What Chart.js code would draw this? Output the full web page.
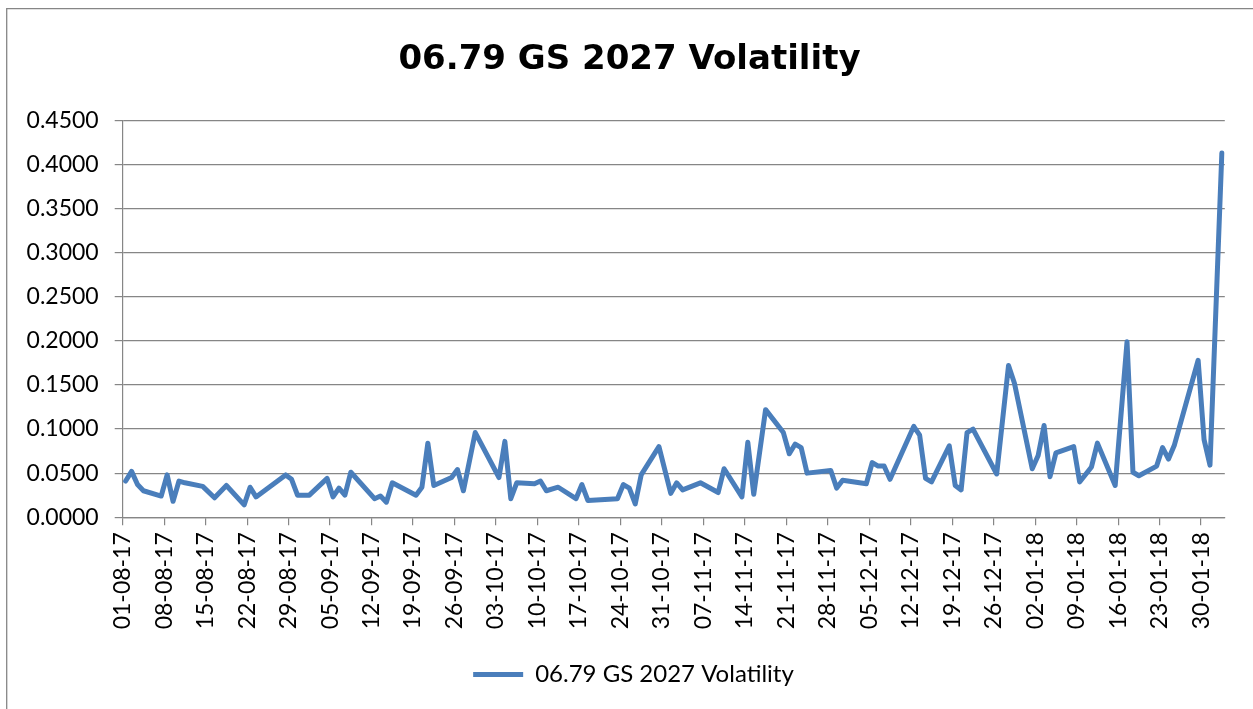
<!DOCTYPE html>
<html><head><meta charset="utf-8">
<script src="https://cdn.jsdelivr.net/npm/chart.js@4/dist/chart.umd.min.js"></script>
<style>html,body{margin:0;padding:0;background:#fff;} canvas{display:block;}</style>
</head><body>
<canvas id="c" width="1253" height="709"></canvas>
<script>
const chartTitle = '06.79 GS 2027 Volatility';
const seriesName = '06.79 GS 2027 Volatility';

const dates = [
 '01-08-17','02-08-17','03-08-17','04-08-17','07-08-17','08-08-17','09-08-17','10-08-17','11-08-17','14-08-17',
 '16-08-17','18-08-17','21-08-17','22-08-17','23-08-17','28-08-17','29-08-17','30-08-17','01-09-17','04-09-17',
 '05-09-17','06-09-17','07-09-17','08-09-17','12-09-17','13-09-17','14-09-17','15-09-17','19-09-17','20-09-17',
 '21-09-17','22-09-17','25-09-17','26-09-17','27-09-17','29-09-17','03-10-17','04-10-17','05-10-17','06-10-17',
 '09-10-17','10-10-17','11-10-17','13-10-17','16-10-17','17-10-17','18-10-17','23-10-17','24-10-17','25-10-17',
 '26-10-17','27-10-17','30-10-17','01-11-17','02-11-17','03-11-17','06-11-17','09-11-17','10-11-17','13-11-17',
 '14-11-17','15-11-17','17-11-17','20-11-17','21-11-17','22-11-17','23-11-17','24-11-17','28-11-17','29-11-17',
 '30-11-17','04-12-17','05-12-17','06-12-17','07-12-17','08-12-17','12-12-17','13-12-17','14-12-17','15-12-17',
 '18-12-17','19-12-17','20-12-17','21-12-17','22-12-17','26-12-17','28-12-17','29-12-17','01-01-18','02-01-18',
 '03-01-18','04-01-18','05-01-18','08-01-18','09-01-18','11-01-18','12-01-18','15-01-18','17-01-18','18-01-18',
 '19-01-18','22-01-18','23-01-18','24-01-18','25-01-18','29-01-18','30-01-18','31-01-18','02-02-18'
];
const values = [
 0.041,0.052,0.037,0.030,0.024,0.048,0.018,0.041,0.039,0.035,
 0.022,0.036,0.014,0.034,0.023,0.048,0.043,0.025,0.025,0.044,
 0.023,0.033,0.025,0.051,0.021,0.024,0.017,0.039,0.025,0.034,
 0.084,0.036,0.045,0.054,0.030,0.096,0.045,0.086,0.021,0.039,
 0.038,0.041,0.030,0.034,0.021,0.037,0.019,0.021,0.037,0.033,
 0.015,0.048,0.080,0.027,0.039,0.031,0.039,0.028,0.055,0.023,
 0.085,0.026,0.122,0.096,0.072,0.083,0.079,0.050,0.053,0.033,
 0.042,0.038,0.062,0.058,0.058,0.043,0.103,0.093,0.044,0.040,
 0.081,0.036,0.031,0.096,0.100,0.049,0.172,0.152,0.055,0.070,
 0.104,0.046,0.073,0.080,0.040,0.057,0.084,0.036,0.199,0.051,
 0.047,0.058,0.079,0.066,0.082,0.178,0.088,0.059,0.413
];
const xTickLabels = [
 '01-08-17','08-08-17','15-08-17','22-08-17','29-08-17','05-09-17','12-09-17','19-09-17','26-09-17',
 '03-10-17','10-10-17','17-10-17','24-10-17','31-10-17','07-11-17','14-11-17','21-11-17','28-11-17',
 '05-12-17','12-12-17','19-12-17','26-12-17','02-01-18','09-01-18','16-01-18','23-01-18','30-01-18'
];
const yTickLabels = ['0.0000','0.0500','0.1000','0.1500','0.2000','0.2500','0.3000','0.3500','0.4000','0.4500'];
const axisStart = '01-08-17';
const axisEnd = '03-02-18';

function dayIndex(s) {
  const [d, m, y] = s.split('-').map(Number);
  const t = Date.UTC(2000 + y, m - 1, d);
  const [d0, m0, y0] = axisStart.split('-').map(Number);
  const t0 = Date.UTC(2000 + y0, m0 - 1, d0);
  return Math.round((t - t0) / 86400000);
}
const points = dates.map((s, i) => ({ x: dayIndex(s) + 0.5, y: values[i] }));
const xTickMap = {};
xTickLabels.forEach(s => { xTickMap[dayIndex(s)] = s; });
const yTickVals = yTickLabels.map(Number);

const GRID = '#868686';
const FONT = 'Lato';
const TITLE_CENTER_X = 629.5;
const LEGEND_CENTER_X = 633.5;

const frame = {
  id: 'frame',
  beforeDraw(chart) {
    const ctx = chart.ctx;
    ctx.save();
    ctx.fillStyle = '#fff';
    ctx.fillRect(0, 0, chart.width, chart.height);
    ctx.strokeStyle = GRID;
    ctx.lineWidth = 1.3;
    ctx.beginPath();
    ctx.moveTo(6.7, chart.height);
    ctx.lineTo(6.7, 8.6);
    ctx.lineTo(chart.width, 8.6);
    ctx.stroke();
    ctx.restore();
  }
};

const shiftBoxes = {
  id: 'shiftBoxes',
  afterLayout(chart) {
    const t = chart.titleBlock;
    if (t) { const dx = TITLE_CENTER_X - (t.left + t.right) / 2; t.left += dx; t.right += dx; }
    const l = chart.legend;
    if (l) { const dx = LEGEND_CENTER_X - (l.left + l.right) / 2; l.left += dx; l.right += dx; }
  }
};

new Chart(document.getElementById('c'), {
  type: 'line',
  data: {
    datasets: [{
      label: seriesName,
      data: points,
      borderColor: '#4A7EBB',
      backgroundColor: '#4A7EBB',
      borderWidth: 5,
      borderCapStyle: 'round',
      borderJoinStyle: 'round',
      pointRadius: 0,
      tension: 0,
      fill: false
    }]
  },
  options: {
    responsive: false,
    animation: false,
    devicePixelRatio: 1,
    layout: { padding: { left: 0, right: 28.2, top: 0, bottom: 12.5 } },
    plugins: {
      title: {
        display: true,
        text: chartTitle,
        color: '#000',
        font: { family: 'DejaVu Sans', size: 34, weight: 'bold', lineHeight: 1.2 },
        padding: { top: 39.6, bottom: 40.1 }
      },
      legend: {
        display: true,
        position: 'bottom',
        labels: {
          color: '#000',
          font: { family: FONT, size: 24 },
          usePointStyle: true,
          pointStyle: 'line',
          pointStyleWidth: 50,
          padding: 10
        }
      },
      tooltip: { enabled: false }
    },
    scales: {
      x: {
        type: 'linear',
        min: 0,
        max: dayIndex(axisEnd),
        afterBuildTicks: (scale) => { scale.ticks = Object.keys(xTickMap).map(v => ({ value: Number(v) })); },
        afterFit: (scale) => { scale.height = 135.3; },
        ticks: {
          autoSkip: false,
          minRotation: 90,
          maxRotation: 90,
          padding: 7,
          color: '#000',
          font: { family: FONT, size: 23 },
          callback: (v) => xTickMap[v] || ''
        },
        grid: { drawOnChartArea: false, drawTicks: true, tickLength: 8, color: GRID, lineWidth: 1.2 },
        border: { display: true, color: GRID, width: 1.2 }
      },
      y: {
        type: 'linear',
        min: 0,
        max: 0.45,
        afterBuildTicks: (scale) => { scale.ticks = yTickVals.map(v => ({ value: v })); },
        afterFit: (scale) => { scale.width = 122.7; },
        ticks: {
          padding: 16,
          color: '#000',
          font: { family: FONT, size: 23 },
          callback: (v) => { const i = yTickVals.findIndex(t => Math.abs(t - v) < 1e-9); return i >= 0 ? yTickLabels[i] : ''; }
        },
        grid: { color: GRID, lineWidth: 1.2, tickLength: 8, drawTicks: true },
        border: { display: true, color: GRID, width: 1.2 }
      }
    }
  },
  plugins: [frame, shiftBoxes]
});
</script>
</body></html>
